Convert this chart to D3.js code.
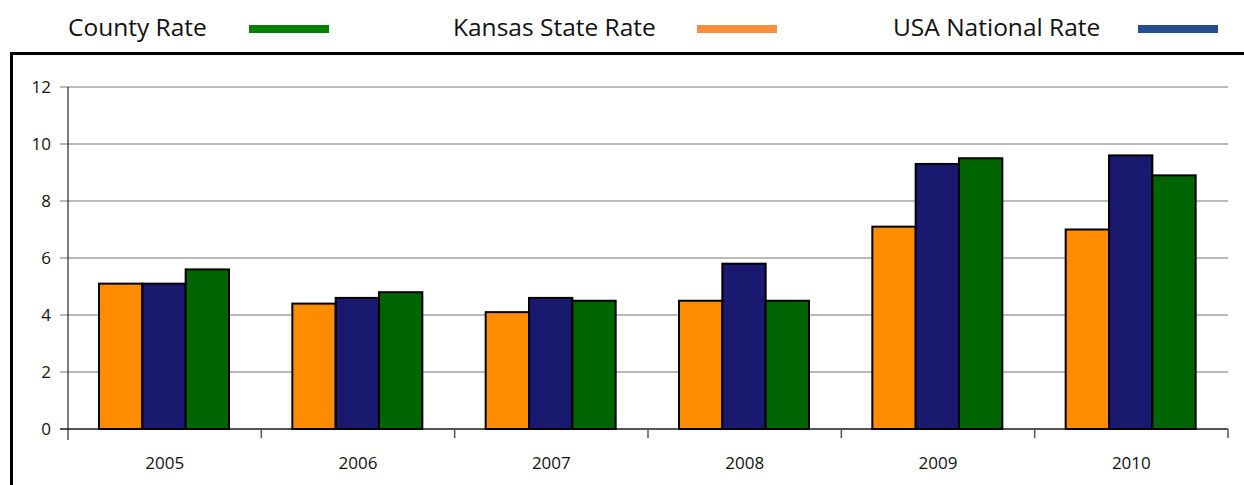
<!DOCTYPE html><html><head><meta charset="utf-8">
<script src="https://cdn.jsdelivr.net/npm/d3@7"></script>
<style>body{margin:0;background:#fff}</style></head><body><svg id="c" width="1244" height="485"></svg>
<script>
const years=["2005","2006","2007","2008","2009","2010"];
const kansas=[5.1,4.4,4.1,4.5,7.1,7.0];
const usa=[5.1,4.6,4.6,5.8,9.3,9.6];
const county=[5.6,4.8,4.5,4.5,9.5,8.9];
const yTicks=[0,2,4,6,8,10,12];
const series=[{name:"Kansas",vals:kansas,fill:"#ff8c00"},{name:"USA",vals:usa,fill:"#191970"},{name:"County",vals:county,fill:"#006400"}];
const legend=[{t:"County Rate",x:68,lx:249,c:"#008000"},{t:"Kansas State Rate",x:453,lx:697,c:"#f98f3a"},{t:"USA National Rate",x:893,lx:1138,c:"#264d8f"}];
const svg=d3.select("#c");
legend.forEach(l=>{svg.append("text").attr("x",l.x).attr("y",36).attr("font-family","Open Sans, sans-serif").attr("font-size",24.5).attr("textLength",null).attr("fill","#111").text(l.t);
svg.append("rect").attr("x",l.lx).attr("y",25).attr("width",80).attr("height",8).attr("fill",l.c);});
svg.append("path").attr("d","M11.5,485 V53.5 H1244").attr("fill","none").attr("stroke","#000").attr("stroke-width",3);
const x=d3.scaleBand().domain(years).range([68,1228]);
const y=d3.scaleLinear().domain([0,12]).range([429,87]);
const g=svg.append("g");
yTicks.forEach(t=>{g.append("line").attr("x1",60).attr("x2",1228).attr("y1",y(t)).attr("y2",y(t)).attr("stroke",t===0?"#555":"#777").attr("stroke-width",t===0?2:1.2);
g.append("text").attr("x",51).attr("y",y(t)+6).attr("text-anchor","end").attr("font-family","Open Sans, sans-serif").attr("font-size",17).attr("fill","#111").text(t);});
g.append("line").attr("x1",68).attr("x2",68).attr("y1",87).attr("y2",440).attr("stroke","#000");
years.forEach((yr,i)=>{if(i>0)g.append("line").attr("x1",x(yr)).attr("x2",x(yr)).attr("y1",429).attr("y2",438).attr("stroke","#555").attr("stroke-width",1.5);
g.append("text").attr("x",x(yr)+x.bandwidth()/2).attr("y",469).attr("text-anchor","middle").attr("font-family","Open Sans, sans-serif").attr("font-size",17).attr("fill","#111").text(yr);});
g.append("line").attr("x1",1228).attr("x2",1228).attr("y1",429).attr("y2",438).attr("stroke","#555").attr("stroke-width",1.5);
const inner=d3.scaleBand().domain(series.map(s=>s.name)).range([31,161]);
series.forEach(s=>{g.selectAll(null).data(s.vals).join("rect")
.attr("x",(d,i)=>x(years[i])+inner(s.name)).attr("width",inner.bandwidth())
.attr("y",d=>y(d)).attr("height",d=>y(0)-y(d)).attr("fill",s.fill).attr("stroke","#000").attr("stroke-width",2);});
</script></body></html>
